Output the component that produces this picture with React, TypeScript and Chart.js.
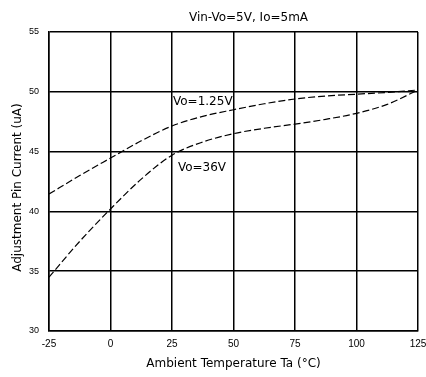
import React, { useEffect, useRef } from "react";
import { Chart, registerables } from "chart.js";

Chart.register(...registerables);

const temperatures = [-25, -12.5, 0, 12.5, 25, 37.5, 50, 62.5, 75, 87.5, 100, 112.5, 125];
const currentVo125 = [41.45, 43.0, 44.46, 45.9, 47.14, 47.95, 48.5, 49.0, 49.4, 49.65, 49.8, 49.95, 50.15];
const currentVo36 = [34.5, 37.5, 40.2, 42.7, 44.7, 45.8, 46.5, 46.95, 47.3, 47.7, 48.2, 48.95, 50.15];
const xTicks = [-25, 0, 25, 50, 75, 100, 125];
const yTicks = [30, 35, 40, 45, 50, 55];

const titleText = "Vin-Vo=5V, Io=5mA";
const xTitle = "Ambient Temperature Ta (\u00B0C)";
const yTitle = "Adjustment Pin Current (uA)";
const labelVo125 = { text: "Vo=1.25V", x: 25.4, y: 49.15 };
const labelVo36 = { text: "Vo=36V", x: 27.4, y: 43.6 };

const FONT = '"DejaVu Sans", "Liberation Sans", Arial, sans-serif';
const TICK_FONT = '"Liberation Sans", Arial, sans-serif';

const textPlugin = {
  id: "textPlugin",
  afterDraw(chart: any) {
    const { ctx, chartArea, scales } = chart;
    const x = scales.x;
    const y = scales.y;
    ctx.save();
    ctx.fillStyle = "#000";
    ctx.font = `12px ${FONT}`;
    ctx.textBaseline = "middle";
    ctx.textAlign = "center";
    ctx.fillText(titleText, (chartArea.left + chartArea.right) / 2 + 15, 18);
    ctx.fillText(xTitle, (chartArea.left + chartArea.right) / 2, 364);
    ctx.save();
    ctx.translate(18, (chartArea.top + chartArea.bottom) / 2 + 6);
    ctx.rotate(-Math.PI / 2);
    ctx.fillText(yTitle, 0, 0);
    ctx.restore();
    ctx.textAlign = "left";
    for (const l of [labelVo125, labelVo36]) {
      ctx.fillText(l.text, x.getPixelForValue(l.x), y.getPixelForValue(l.y));
    }
    ctx.restore();
  },
};

export default function App() {
  const ref = useRef<HTMLCanvasElement | null>(null);
  useEffect(() => {
    if (!ref.current) return;
    const chart = new Chart(ref.current, {
      type: "line",
      data: {
        datasets: [
          {
            label: "Vo=1.25V",
            data: temperatures.map((t, i) => ({ x: t, y: currentVo125[i] })),
            borderColor: "#000",
            borderWidth: 1.2,
            borderDash: [7, 3],
            pointRadius: 0,
            cubicInterpolationMode: "monotone",
            fill: false,
          },
          {
            label: "Vo=36V",
            data: temperatures.map((t, i) => ({ x: t, y: currentVo36[i] })),
            borderColor: "#000",
            borderWidth: 1.2,
            borderDash: [7, 3],
            pointRadius: 0,
            cubicInterpolationMode: "monotone",
            fill: false,
          },
        ],
      },
      options: {
        animation: false,
        responsive: true,
        maintainAspectRatio: false,
        layout: { padding: { top: 32, right: 8, left: 0, bottom: 0 } },
        plugins: {
          legend: { display: false },
          title: { display: false },
          tooltip: { enabled: false },
        },
        scales: {
          x: {
            type: "linear",
            min: -25,
            max: 125,
            afterBuildTicks: (s: any) => {
              s.ticks = xTicks.map((v) => ({ value: v }));
            },
            afterFit: (s: any) => {
              s.height = 46;
              s.paddingRight = 0;
              s.paddingLeft = 0;
            },
            grid: { color: "#000", lineWidth: 1.5, drawTicks: false },
            border: { color: "#000", width: 1.5 },
            ticks: {
              color: "#000",
              font: { family: TICK_FONT, size: 10 },
              padding: 7,
              maxRotation: 0,
              autoSkip: false,
            },
          },
          y: {
            type: "linear",
            min: 30,
            max: 55,
            afterBuildTicks: (s: any) => {
              s.ticks = yTicks.map((v) => ({ value: v }));
            },
            afterFit: (s: any) => {
              s.width = 49;
              s.paddingTop = 0;
              s.paddingBottom = 0;
            },
            grid: { color: "#000", lineWidth: 1.5, drawTicks: false },
            border: { color: "#000", width: 1.5 },
            ticks: {
              color: "#000",
              font: { family: TICK_FONT, size: 9 },
              padding: 10,
              autoSkip: false,
            },
          },
        },
      },
      plugins: [textPlugin],
    } as any);
    return () => chart.destroy();
  }, []);
  return (
    <div style={{ position: "absolute", left: 0, top: 0, width: 426, height: 377, background: "#fff" }}>
      <canvas ref={ref} />
    </div>
  );
}
